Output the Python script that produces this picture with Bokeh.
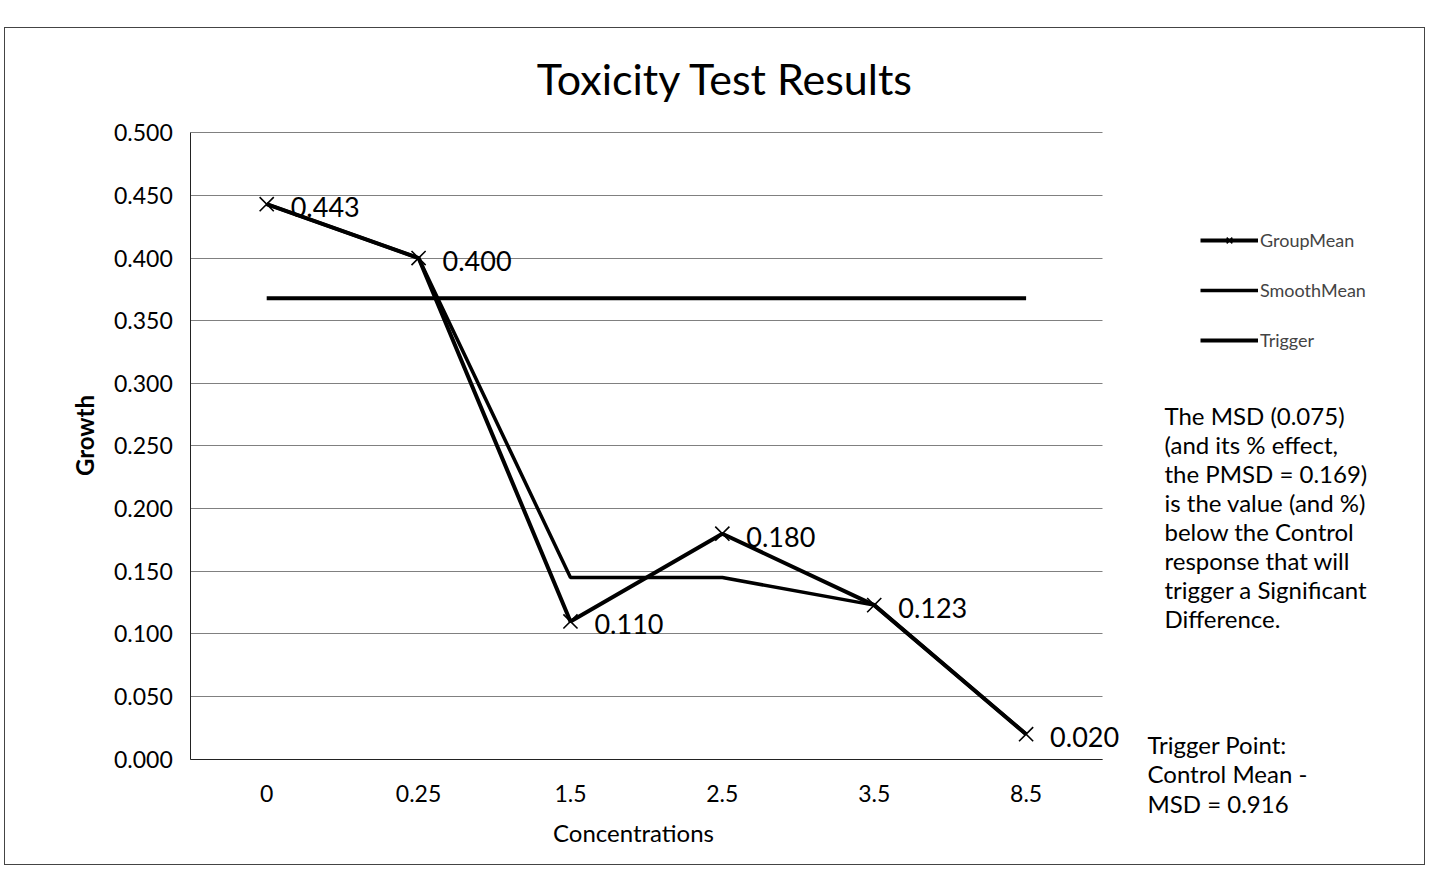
import math
from bokeh.plotting import figure
from bokeh.models import (ColumnDataSource, Range1d, FixedTicker, NumeralTickFormatter,
                          Label, Legend, LegendItem, Grid)
from bokeh.core.properties import value
from bokeh.embed import file_html
from bokeh.resources import INLINE

# ---- data ----
concentrations = ["0", "0.25", "1.5", "2.5", "3.5", "8.5"]
group_mean = [0.443, 0.400, 0.110, 0.180, 0.123, 0.020]
smooth_mean = [0.443, 0.400, 0.145, 0.145, 0.123, 0.020]
trigger = [0.368, 0.368, 0.368, 0.368, 0.368, 0.368]
y_ticks = [0.0, 0.05, 0.10, 0.15, 0.20, 0.25, 0.30, 0.35, 0.40, 0.45, 0.50]

title_text = "Toxicity Test Results"
x_title = "Concentrations"
y_title = "Growth"
note_msd = ("The MSD (0.075)\n(and its % effect,\nthe PMSD = 0.169)\nis the value (and %)\n"
            "below the Control\nresponse that will\ntrigger a Significant\nDifference.")
note_trigger = "Trigger Point:\nControl Mean -\nMSD = 0.916"

FONT = "Lato"

x_pos = list(range(len(concentrations)))
src = ColumnDataSource(dict(
    x=x_pos,
    group=group_mean,
    smooth=smooth_mean,
    trig=trigger,
    lbl=["%.3f" % v for v in group_mean],
))

# Page geometry (frame covers the whole canvas; axes fixed inside)
PX0, PY0 = 5, 28          # canvas top-left on page
CW, CH = 1419, 836        # canvas size
U = 910.0 / 6.0           # px per category
X_LEFT = -0.5 - (190 - PX0) / U
X_RIGHT = -0.5 + (PX0 + CW - 190) / U
YPX = 1250.0              # px per unit of growth
Y_TOP = 0.5 + (132 - PY0) / YPX
Y_BOT = -((PY0 + CH) - 757) / YPX

p = figure(width=CW + 2, height=CH + 2, x_range=Range1d(X_LEFT, X_RIGHT),
           y_range=Range1d(Y_BOT, Y_TOP),
           output_backend="svg", toolbar_location=None,
           min_border_left=0, min_border_right=0, min_border_top=0, min_border_bottom=0)
p.margin = (PY0 - 1, 0, 0, PX0 - 1)
p.styles = {"border": "1px solid #444444"}
p.title.visible = False
p.outline_line_color = None
p.background_fill_color = "white"
p.border_fill_color = "white"

# grid
p.xgrid.visible = False
p.ygrid.ticker = FixedTicker(ticks=y_ticks)
p.ygrid.grid_line_color = "#808080"
p.ygrid.grid_line_width = 1
p.ygrid.bounds = (0, 0.5)
if "cross_bounds" in Grid.properties():
    p.ygrid.cross_bounds = (-0.5, len(concentrations) - 0.5)

# axes
p.yaxis.ticker = FixedTicker(ticks=y_ticks)
p.yaxis.formatter = NumeralTickFormatter(format="0.000")
p.yaxis.fixed_location = -0.5
p.yaxis.bounds = (0, 0.5)
p.xaxis.ticker = FixedTicker(ticks=x_pos)
p.xaxis.major_label_overrides = {i: c for i, c in zip(x_pos, concentrations)}
p.xaxis.fixed_location = 0
p.xaxis.bounds = (-0.5, len(concentrations) - 0.5)
for ax in (p.xaxis[0], p.yaxis[0]):
    ax.axis_line_color = "#222222"
    ax.axis_line_width = 1
    ax.major_tick_line_color = None
    ax.minor_tick_line_color = None
    ax.major_label_text_font = FONT
    ax.major_label_text_font_size = "23px"
    ax.major_label_text_color = "black"
p.yaxis.major_label_standoff = 12
p.xaxis.major_label_standoff = 20

# series
r_group = p.line("x", "group", source=src, line_color="black", line_width=4)
r_group_m = p.scatter("x", "group", source=src, marker="x", size=20, line_color="black", line_width=1.6)
r_smooth = p.line("x", "smooth", source=src, line_color="black", line_width=3.5)
r_trig = p.line("x", "trig", source=src, line_color="black", line_width=4)

# data labels
p.text("x", "group", text="lbl", source=src, x_offset=24, y_offset=3,
       text_baseline="middle", text_align="left", text_font=value(FONT),
       text_font_size="27px", text_color="black")

def sx(px):
    return px - PX0
def sy(py):
    return (PY0 + CH) - py

# legend
legend = Legend(items=[
    LegendItem(label="GroupMean", renderers=[r_group, r_group_m]),
    LegendItem(label="SmoothMean", renderers=[r_smooth]),
    LegendItem(label="Trigger", renderers=[r_trig]),
], location=(sx(1200), sy(349)), orientation="vertical")
legend.glyph_width = 58
legend.glyph_height = 20
legend.label_height = 20
legend.spacing = 28
legend.padding = 0
legend.margin = 0
legend.label_standoff = 2
legend.border_line_color = None
legend.background_fill_alpha = 0
legend.label_text_font = FONT
legend.label_text_font_size = "18px"
p.add_layout(legend)

p.add_layout(Label(x=sx(725), y=sy(76), x_units="screen", y_units="screen", text=title_text,
                   text_align="center", text_baseline="middle", text_font=FONT,
                   text_font_size="43px", text_color="black"))
p.add_layout(Label(x=sx(633), y=sy(830), x_units="screen", y_units="screen", text=x_title,
                   text_align="center", text_baseline="middle", text_font=FONT,
                   text_font_size="24px", text_color="black"))
p.add_layout(Label(x=sx(84), y=sy(433), x_units="screen", y_units="screen", text=y_title,
                   angle=math.pi / 2, text_align="center", text_baseline="middle", text_font=FONT,
                   text_font_size="24px", text_font_style="bold", text_color="black"))
p.add_layout(Label(x=sx(1164), y=sy(398), x_units="screen", y_units="screen", text=note_msd,
                   text_align="left", text_baseline="top", text_font=FONT,
                   text_font_size="24px", text_line_height=1.0, text_color="black"))
p.add_layout(Label(x=sx(1147), y=sy(727), x_units="screen", y_units="screen", text=note_trigger,
                   text_align="left", text_baseline="top", text_font=FONT,
                   text_font_size="24px", text_line_height=1.03, text_color="black"))

open("out.html", "w").write(file_html(p, INLINE))
